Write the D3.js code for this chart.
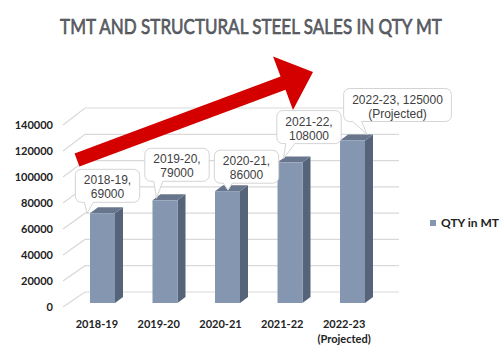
<!DOCTYPE html>
<html>
<head>
<meta charset="utf-8">
<script src="https://cdn.jsdelivr.net/npm/d3@7"></script>
<style>
  body { margin: 0; background: #fff; }
  svg { display: block; }
</style>
</head>
<body>
<div id="chart"></div>
<script>
// data
var years = ["2018-19", "2019-20", "2020-21", "2021-22", "2022-23"];
var yearSub = ["", "", "", "", "(Projected)"];
var qty = [69000, 79000, 86000, 108000, 125000];
var calloutLines = [
    ["2018-19,", "69000"],
    ["2019-20,", "79000"],
    ["2020-21,", "86000"],
    ["2021-22,", "108000"],
    ["2022-23, 125000", "(Projected)"]
];
var yTicks = [0, 20000, 40000, 60000, 80000, 100000, 120000, 140000];
var seriesName = "QTY in MT";
var title = "TMT AND STRUCTURAL STEEL SALES IN QTY MT";

// layout (pixel placement of callouts relative to each bar top)
var boxOffset = [[17.5, -44], [24.5, -52], [31.5, -41], [31.5, -52], [57.5, -52]];
var tipOffset = [[-3, 0], [4, -2], [13, -1], [6, -4], [27, -6]];

var W = 502, H = 353;
var svg = d3.select("#chart").append("svg")
    .attr("width", W)
    .attr("height", H);

// scales: front plane (labels), bar plane and back wall
var xLab = d3.scaleBand().domain(years).range([66, 375]);
var xBar = d3.scaleBand().domain(years).range([71.25, 383.75]);
var yAxisS = d3.scaleLinear().domain([0, 140000]).range([307, 125]);
var yBar = d3.scaleLinear().domain([0, 140000]).range([303, 121]);
var yBack = d3.scaleLinear().domain([0, 140000]).range([292, 108]);
var barW = 25, depX = 8, depY = -6;
var wallL = 85, wallR = 399;

// title, squeezed horizontally to the width of the original
var tg = svg.append("g");
var tt = tg.append("text")
    .attr("x", 0)
    .attr("y", 0)
    .attr("text-anchor", "middle")
    .attr("font-family", "Lato, 'Open Sans', sans-serif")
    .attr("font-size", 21)
    .attr("fill", "#62666c")
    .attr("stroke", "#3e4146")
    .attr("stroke-width", 0.6)
    .text(title);
var tLen = tt.node().getComputedTextLength();
tg.attr("transform", "translate(251,34) scale(" + (382 / tLen) + ",1)");

// gridlines: diagonal side part + back wall
var grid = svg.append("g").attr("stroke", "#d9d9d9").attr("stroke-width", 1.2).attr("fill", "none");
grid.selectAll("path")
    .data(yTicks)
    .enter()
    .append("path")
    .attr("d", function (d) {
        return "M63," + yAxisS(d) + "L" + wallL + "," + yBack(d) + "H" + wallR;
    });

// y axis labels
var yAx = svg.append("g")
    .attr("transform", "translate(56,0)")
    .call(d3.axisLeft(yAxisS).tickValues(yTicks).tickSize(0).tickPadding(3).tickFormat(d3.format("d")));
yAx.select(".domain").remove();
yAx.selectAll("text")
    .attr("font-family", "Lato, sans-serif")
    .attr("font-weight", "bold")
    .attr("font-size", 11)
    .attr("fill", "#222");

// x axis labels
var xl = svg.append("g");
xl.selectAll("text.yr")
    .data(years)
    .enter()
    .append("text")
    .attr("x", function (d) { return xLab(d) + xLab.bandwidth() / 2; })
    .attr("y", 328)
    .attr("text-anchor", "middle")
    .attr("font-family", "Lato, sans-serif")
    .attr("font-weight", "bold")
    .attr("font-size", 11)
    .attr("fill", "#222")
    .text(function (d) { return d; });
xl.selectAll("text.sub")
    .data(yearSub)
    .enter()
    .append("text")
    .attr("x", function (d, i) { return xLab(years[i]) + xLab.bandwidth() / 2; })
    .attr("y", 343)
    .attr("text-anchor", "middle")
    .attr("font-family", "Lato, sans-serif")
    .attr("font-weight", "bold")
    .attr("font-size", 11)
    .attr("fill", "#222")
    .text(function (d) { return d; });

// 3d bars
function barLeft(i) { return xBar(years[i]) + xBar.bandwidth() / 2 - barW / 2; }
var bars = svg.append("g");
var bar = bars.selectAll("g")
    .data(qty)
    .enter()
    .append("g");
bar.append("path")  // side
    .attr("fill", "#56647a")
    .attr("d", function (d, i) {
        var x = barLeft(i) + barW, t = yBar(d), b = yBar(0);
        return "M" + x + "," + b + "L" + x + "," + t + "L" + (x + depX) + "," + (t + depY) +
            "L" + (x + depX) + "," + (b + depY) + "Z";
    });
bar.append("path")  // top
    .attr("fill", "#68768d")
    .attr("d", function (d, i) {
        var x = barLeft(i), t = yBar(d);
        return "M" + x + "," + t + "L" + (x + barW) + "," + t + "L" + (x + barW + depX) + "," + (t + depY) +
            "L" + (x + depX) + "," + (t + depY) + "Z";
    });
bar.append("rect")  // front
    .attr("fill", "#8496b0")
    .attr("x", function (d, i) { return barLeft(i); })
    .attr("y", function (d) { return yBar(d); })
    .attr("width", barW)
    .attr("height", function (d) { return yBar(0) - yBar(d); });

// callouts
var lineH = 14;
var co = svg.append("g");
qty.forEach(function (v, i) {
    var g = co.append("g");
    var cx = barLeft(i) + boxOffset[i][0];
    var top = yBar(v) + boxOffset[i][1];
    var texts = g.selectAll("text")
        .data(calloutLines[i])
        .enter()
        .append("text")
        .attr("x", cx)
        .attr("y", function (d, j) { return top + 15 + j * lineH; })
        .attr("text-anchor", "middle")
        .attr("font-family", "'Liberation Sans', Arial, sans-serif")
        .attr("font-size", 12)
        .attr("fill", "#404040")
        .text(function (d) { return d; });
    var tw = 0;
    texts.each(function () { tw = Math.max(tw, this.getComputedTextLength()); });
    var w = tw + 17, h = 33, r = 6;
    var bx = cx - w / 2, by = top, bb = by + h;
    var tx = barLeft(i) + tipOffset[i][0], ty = yBar(v) + tipOffset[i][1];
    var p = d3.path();
    p.moveTo(bx + r, by);
    p.lineTo(bx + w - r, by);
    p.arcTo(bx + w, by, bx + w, by + r, r);
    p.lineTo(bx + w, bb - r);
    p.arcTo(bx + w, bb, bx + w - r, bb, r);
    p.lineTo(bx + 18, bb);
    p.lineTo(tx, ty);
    p.lineTo(bx + 9, bb);
    p.lineTo(bx + r, bb);
    p.arcTo(bx, bb, bx, bb - r, r);
    p.lineTo(bx, by + r);
    p.arcTo(bx, by, bx + r, by, r);
    p.closePath();
    g.insert("path", "text")
        .attr("d", p.toString())
        .attr("fill", "#fff")
        .attr("stroke", "#d4d4d4")
        .attr("stroke-width", 1);
});

// trend arrow
var arrowStart = [77, 160], arrowTip = [313, 72];
var shaftHalf = 7, headHalf = 28.5, headLen = 32;
(function () {
    var dx = arrowTip[0] - arrowStart[0], dy = arrowTip[1] - arrowStart[1];
    var len = Math.sqrt(dx * dx + dy * dy);
    var ux = dx / len, uy = dy / len, nx = -uy, ny = ux;
    var bx = arrowTip[0] - ux * headLen, by = arrowTip[1] - uy * headLen;
    var pts = [
        [arrowStart[0] + nx * shaftHalf, arrowStart[1] + ny * shaftHalf],
        [bx + nx * shaftHalf, by + ny * shaftHalf],
        [bx + nx * headHalf, by + ny * headHalf],
        arrowTip,
        [bx - nx * headHalf, by - ny * headHalf],
        [bx - nx * shaftHalf, by - ny * shaftHalf],
        [arrowStart[0] - nx * shaftHalf, arrowStart[1] - ny * shaftHalf]
    ];
    svg.append("path")
        .attr("d", d3.line()(pts) + "Z")
        .attr("fill", "#d40000");
})();

// legend
var lg = svg.append("g").attr("transform", "translate(430,220)");
lg.append("rect")
    .attr("width", 6)
    .attr("height", 6)
    .attr("fill", "#8496b0");
lg.append("text")
    .attr("x", 11)
    .attr("y", 6.5)
    .attr("font-family", "Lato, sans-serif")
    .attr("font-weight", "bold")
    .attr("font-size", 12)
    .attr("fill", "#222")
    .text(seriesName);
</script>
</body>
</html>
